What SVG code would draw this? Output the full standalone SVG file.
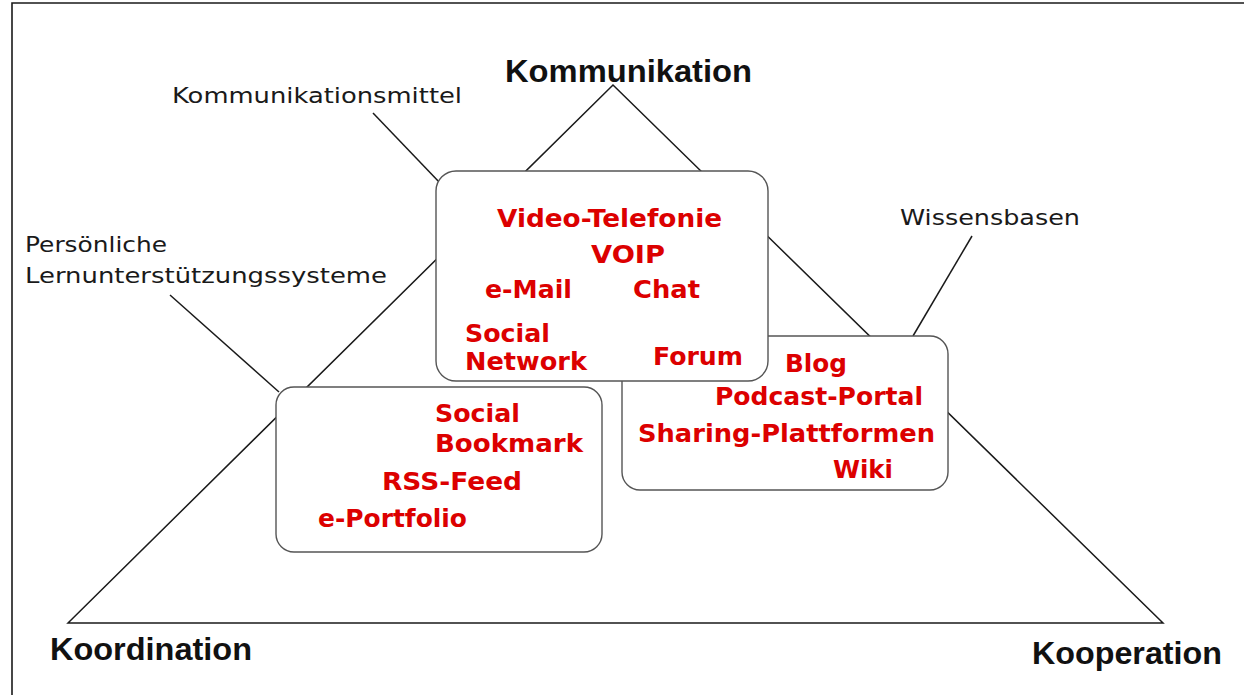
<svg xmlns="http://www.w3.org/2000/svg" width="1244" height="695" viewBox="0 0 1244 695">
<style>
.frame{stroke:#1a1a1a;stroke-width:1.6;fill:none}
.ln{stroke:#1a1a1a;stroke-width:1.5;fill:none}
.box{fill:#ffffff;stroke:#555;stroke-width:1.4}
.red{font-family:"DejaVu Sans","Liberation Sans",sans-serif;font-weight:bold;font-size:25px;fill:#dc0000}
.lbl{font-family:"DejaVu Sans","Liberation Sans",sans-serif;font-size:21px;fill:#1a1a1a}
.big{font-family:"Liberation Sans",Arial,sans-serif;font-weight:bold;font-size:31px;fill:#111}
</style>
<rect width="1244" height="695" fill="#ffffff"/>
<path class="frame" d="M12,695 L12,3 L1244,3"/>
<g id="connectors">
<path class="ln" d="M68,623 L613,85 L1163,623 Z"/>
<line class="ln" x1="373" y1="113" x2="441" y2="184"/>
<line class="ln" x1="170" y1="295" x2="279" y2="392"/>
<line class="ln" x1="972" y1="236" x2="913" y2="336"/>
</g>
<g id="label-kommunikation"><text class="big" x="505" y="82" textLength="247" lengthAdjust="spacingAndGlyphs">Kommunikation</text></g>
<g id="label-koordination"><text class="big" x="50" y="660" textLength="202" lengthAdjust="spacingAndGlyphs">Koordination</text></g>
<g id="label-kooperation"><text class="big" x="1032" y="664" textLength="190" lengthAdjust="spacingAndGlyphs">Kooperation</text></g>
<g id="label-kommunikationsmittel"><text class="lbl" x="172" y="103" textLength="290" lengthAdjust="spacingAndGlyphs">Kommunikationsmittel</text></g>
<g id="label-persoenliche">
<text class="lbl" x="25" y="252" textLength="142" lengthAdjust="spacingAndGlyphs">Persönliche</text>
<text class="lbl" x="25" y="283" textLength="362" lengthAdjust="spacingAndGlyphs">Lernunterstützungssysteme</text>
</g>
<g id="label-wissensbasen"><text class="lbl" x="900" y="225" textLength="180" lengthAdjust="spacingAndGlyphs">Wissensbasen</text></g>
<g id="box-wissensbasen">
<rect class="box" x="622" y="336" width="326" height="154" rx="18"/>
<text class="red" x="785" y="372" textLength="62" lengthAdjust="spacingAndGlyphs">Blog</text>
<text class="red" x="715" y="405" textLength="208" lengthAdjust="spacingAndGlyphs">Podcast-Portal</text>
<text class="red" x="638" y="442" textLength="297" lengthAdjust="spacingAndGlyphs">Sharing-Plattformen</text>
<text class="red" x="833" y="478" textLength="60" lengthAdjust="spacingAndGlyphs">Wiki</text>
</g>
<g id="box-kommunikation">
<rect class="box" x="436" y="171" width="332" height="210" rx="20"/>
<text class="red" x="497" y="227" textLength="225" lengthAdjust="spacingAndGlyphs">Video-Telefonie</text>
<text class="red" x="591" y="263" textLength="74" lengthAdjust="spacingAndGlyphs">VOIP</text>
<text class="red" x="485" y="298" textLength="87" lengthAdjust="spacingAndGlyphs">e-Mail</text>
<text class="red" x="633" y="298" textLength="67" lengthAdjust="spacingAndGlyphs">Chat</text>
<text class="red" x="465" y="342" textLength="85" lengthAdjust="spacingAndGlyphs">Social</text>
<text class="red" x="465" y="370" textLength="122" lengthAdjust="spacingAndGlyphs">Network</text>
<text class="red" x="653" y="365" textLength="90" lengthAdjust="spacingAndGlyphs">Forum</text>
</g>
<g id="box-lernunterstuetzung">
<rect class="box" x="276" y="387" width="326" height="165" rx="18"/>
<text class="red" x="435" y="422" textLength="85" lengthAdjust="spacingAndGlyphs">Social</text>
<text class="red" x="435" y="452" textLength="148" lengthAdjust="spacingAndGlyphs">Bookmark</text>
<text class="red" x="382" y="490" textLength="140" lengthAdjust="spacingAndGlyphs">RSS-Feed</text>
<text class="red" x="318" y="527" textLength="149" lengthAdjust="spacingAndGlyphs">e-Portfolio</text>
</g>
</svg>
